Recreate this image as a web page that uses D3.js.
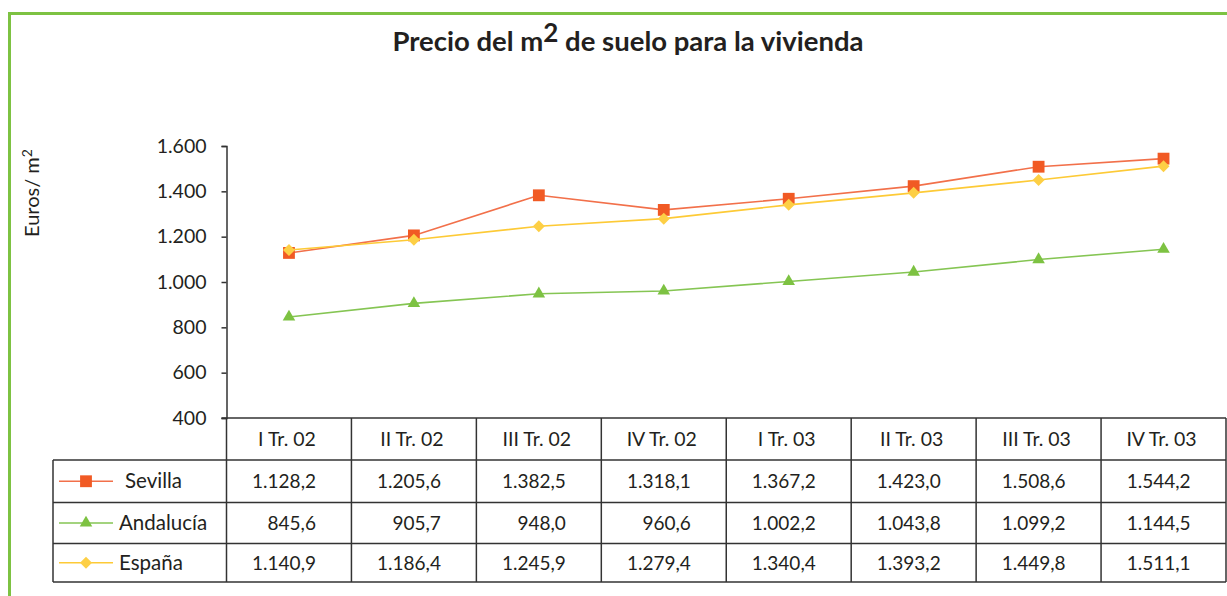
<!DOCTYPE html>
<html>
<head>
<meta charset="utf-8">
<script src="https://cdn.jsdelivr.net/npm/d3@7"></script>
<style>
  body { margin: 0; background: #fff; }
  svg { display: block; font-family: Lato, "Open Sans", sans-serif; }
</style>
</head>
<body>
<svg id="chart" width="1227" height="596"></svg>
<script>
const width = 1227,
	height = 596;

// data
const quarters = ["I Tr. 02", "II Tr. 02", "III Tr. 02", "IV Tr. 02", "I Tr. 03", "II Tr. 03", "III Tr. 03", "IV Tr. 03"];
const sevilla = [1128.2, 1205.6, 1382.5, 1318.1, 1367.2, 1423.0, 1508.6, 1544.2];
const andalucia = [845.6, 905.7, 948.0, 960.6, 1002.2, 1043.8, 1099.2, 1144.5];
const espana = [1140.9, 1186.4, 1245.9, 1279.4, 1340.4, 1393.2, 1449.8, 1511.1];
const seriesNames = ["Sevilla", "Andalucía", "España"];
const yTicks = [400, 600, 800, 1000, 1200, 1400, 1600];

const series = [
	{name: seriesNames[0], values: sevilla, line: "#f2704a", fill: "#f15a24", symbol: d3.symbolSquare, size: 140, rot: 0},
	{name: seriesNames[1], values: andalucia, line: "#85c553", fill: "#7dc242", symbol: d3.symbolTriangle, size: 68, rot: 0},
	{name: seriesNames[2], values: espana, line: "#fdca36", fill: "#fdcf45", symbol: d3.symbolSquare, size: 72, rot: 45}
];

const locale = d3.formatLocale({decimal: ",", thousands: ".", grouping: [3], currency: ["", "€"]});
const fmtTick = locale.format(",.0f");
const fmtVal = locale.format(",.1f");

const plotLeft = 226.5,
	plotRight = 1226,
	plotTop = 146,
	plotBottom = 418;

const xScale = d3.scaleBand()
	.domain(quarters)
	.range([plotLeft, plotRight]);

const yScale = d3.scaleLinear()
	.domain([400, 1600])
	.range([plotBottom, plotTop]);

const svg = d3.select("#chart");

// green frame
svg.append("path")
	.attr("d", "M9.5,600 V13.5 H1240")
	.attr("fill", "none")
	.attr("stroke", "#7dc242")
	.attr("stroke-width", 3);

// title
const title = svg.append("text")
	.attr("x", 628)
	.attr("y", 51)
	.attr("text-anchor", "middle")
	.attr("font-size", 27.5)
	.attr("font-weight", "bold")
	.attr("fill", "#231f20");
title.append("tspan").text("Precio del m");
title.append("tspan").attr("dy", -9).attr("font-size", 26).text("2");
title.append("tspan").attr("dy", 9).text(" de suelo para la vivienda");

// y axis
const yAxis = svg.append("g")
	.attr("transform", `translate(${plotLeft},0)`)
	.call(d3.axisLeft(yScale).tickValues(yTicks).tickFormat(fmtTick).tickSize(5).tickPadding(15));
yAxis.select(".domain").attr("stroke", "#333").attr("stroke-width", 1.5);
yAxis.selectAll(".tick line").attr("stroke", "#333").attr("stroke-width", 1.5);
yAxis.selectAll(".tick text")
	.attr("font-size", 19.5)
	.attr("fill", "#231f20")
	.attr("font-family", "Lato, sans-serif");

// y axis title
const yTitle = svg.append("text")
	.attr("transform", "translate(39,193) rotate(-90)")
	.attr("text-anchor", "middle")
	.attr("font-size", 20)
	.attr("fill", "#231f20");
yTitle.append("tspan").text("Euros/ m");
yTitle.append("tspan").attr("dy", -7).attr("font-size", 14).text("2");

// lines and markers
const line = d3.line()
	.x((d, i) => xScale(quarters[i]) + xScale.bandwidth() / 2)
	.y(d => yScale(d));

const drawOrder = [series[1], series[0], series[2]];
drawOrder.forEach(s => {
	svg.append("path")
		.datum(s.values)
		.attr("fill", "none")
		.attr("stroke", s.line)
		.attr("stroke-width", 1.6)
		.attr("d", line);
	svg.append("g")
		.selectAll("path")
		.data(s.values)
		.join("path")
		.attr("transform", (d, i) => `translate(${xScale(quarters[i]) + xScale.bandwidth() / 2},${yScale(d)}) rotate(${s.rot})`)
		.attr("d", d3.symbol(s.symbol, s.size))
		.attr("fill", s.fill);
});

// data table
const rowH = [42, 42.5, 41, 38.5];
const rowY = [plotBottom];
rowH.forEach((h, i) => rowY.push(rowY[i] + h));
const legendLeft = 53;
const table = svg.append("g")
	.attr("stroke", "#333")
	.attr("stroke-width", 1.5)
	.attr("fill", "none");

// horizontal lines
table.append("line").attr("x1", plotLeft - 5).attr("x2", plotRight).attr("y1", rowY[0]).attr("y2", rowY[0]);
for (let r = 1; r < rowY.length; r++) {
	table.append("line").attr("x1", legendLeft).attr("x2", plotRight).attr("y1", rowY[r]).attr("y2", rowY[r]);
}
// vertical lines
table.append("line").attr("x1", legendLeft).attr("x2", legendLeft).attr("y1", rowY[1]).attr("y2", rowY[4]);
quarters.forEach(q => {
	table.append("line").attr("x1", xScale(q)).attr("x2", xScale(q)).attr("y1", rowY[0]).attr("y2", rowY[4]);
});
table.append("line").attr("x1", plotRight).attr("x2", plotRight).attr("y1", rowY[0]).attr("y2", rowY[4]);

// header
svg.append("g")
	.selectAll("text")
	.data(quarters)
	.join("text")
	.attr("x", d => xScale(d) + xScale.bandwidth() / 2 - 2)
	.attr("y", (rowY[0] + rowY[1]) / 2 + 7)
	.attr("text-anchor", "middle")
	.attr("font-size", 19.5)
	.attr("fill", "#231f20")
	.text(d => d);

// rows
series.forEach((s, r) => {
	const cy = (rowY[r + 1] + rowY[r + 2]) / 2;
	const g = svg.append("g");
	g.append("line")
		.attr("x1", 59).attr("x2", 113)
		.attr("y1", cy).attr("y2", cy)
		.attr("stroke", s.line)
		.attr("stroke-width", 1.6);
	g.append("path")
		.attr("transform", `translate(86,${cy}) rotate(${s.rot})`)
		.attr("d", d3.symbol(s.symbol, s.size))
		.attr("fill", s.fill);
	g.append("text")
		.attr("x", r === 0 ? 125 : 119)
		.attr("y", cy + 7)
		.attr("font-size", 20.5)
		.attr("fill", "#231f20")
		.text(s.name);
	g.selectAll("text.val")
		.data(s.values)
		.join("text")
		.attr("class", "val")
		.attr("x", (d, i) => xScale(quarters[i]) + xScale.bandwidth() / 2 + 27)
		.attr("y", cy + 7)
		.attr("text-anchor", "end")
		.attr("font-size", 19)
		.attr("fill", "#231f20")
		.text(d => fmtVal(d));
});
</script>
</body>
</html>
